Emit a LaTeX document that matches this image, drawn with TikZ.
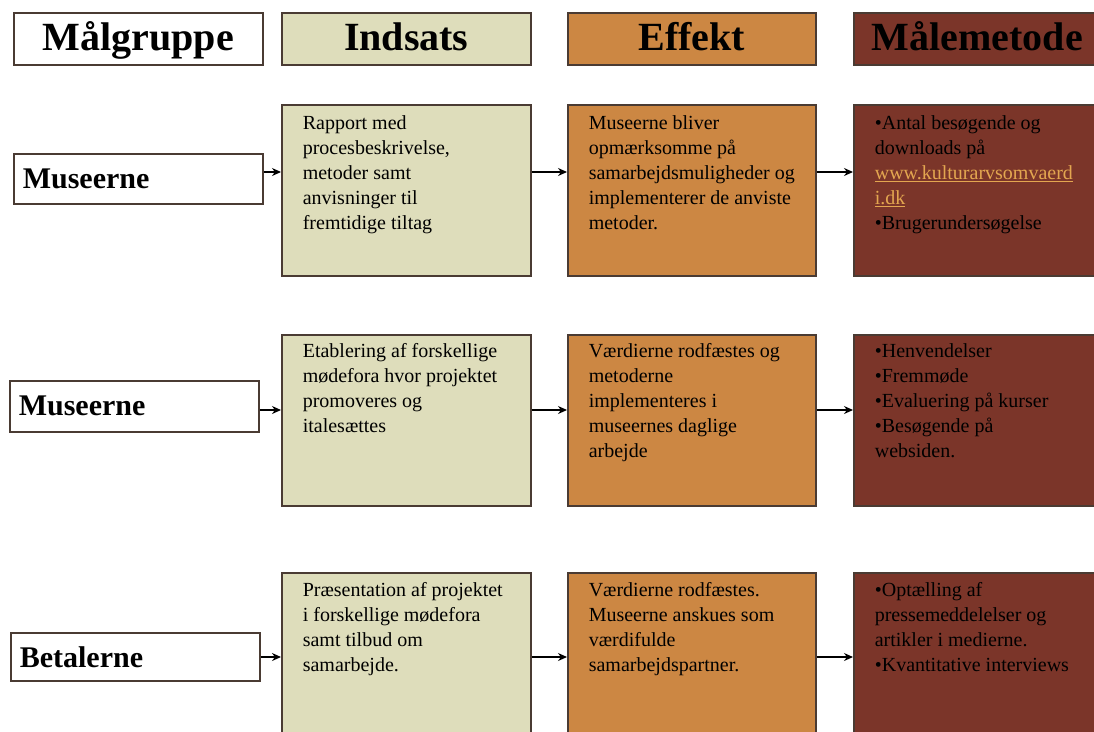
\documentclass[tikz,border=0pt]{standalone}
\usepackage{fontspec}
\setmainfont{Liberation Serif}
\usetikzlibrary{arrows.meta}
\definecolor{edgecol}{HTML}{4A3B33}
\definecolor{indsatscol}{HTML}{DEDDBB}
\definecolor{effektcol}{HTML}{CC8743}
\definecolor{maalecol}{HTML}{7B3529}
\definecolor{linkcol}{HTML}{E3A650}

\begin{document}
\begin{tikzpicture}[x=1pt,y=-1pt,>={Stealth[length=9pt,width=8pt]},line width=1.6pt,
  head/.style={draw=edgecol,anchor=north west,minimum height=52pt,inner sep=0pt,
    text height=30pt,text depth=6pt,font=\fontsize{40}{40}\selectfont\bfseries},
  group/.style={draw=edgecol,fill=white,anchor=north west,minimum width=249pt,
    text width=231pt,inner xsep=9pt,align=left,font=\fontsize{30}{30}\selectfont\bfseries},
  cell/.style={draw=edgecol,anchor=north west,minimum height=171pt,inner sep=0pt},
  txt/.style={anchor=north west,inner sep=0pt,align=left,font=\fontsize{20}{25}\selectfont},
  link/.style={->,draw=black,line width=1.4pt}]

  \clip (0,0) rectangle (1094,731);

  % column heads
  \node[head,fill=white,minimum width=249pt] (hg) at (13,12) {Målgruppe};
  \node[head,fill=indsatscol,minimum width=249pt] (hi) at (281,12) {Indsats};
  \node[head,fill=effektcol,minimum width=248pt] (he) at (567,12) {Effekt};
  \node[head,fill=maalecol,minimum width=247pt] (hm) at (853,12) {Målemetode};

  % rows
  \node[group,minimum height=50pt] (g1) at (13,153) {Museerne};
  \node[group,minimum height=51pt] (g2) at (9,380) {Museerne};
  \node[group,minimum height=48pt] (g3) at (10,632) {Betalerne};

  \foreach \r/\y in {1/104,2/334,3/572} {
    \node[cell,fill=indsatscol,minimum width=249pt] (i\r) at (281,\y) {};
    \node[cell,fill=effektcol,minimum width=248pt] (e\r) at (567,\y) {};
    \node[cell,fill=maalecol,minimum width=260pt] (m\r) at (853,\y) {};
  }

  \node[txt] (i1t) at ([xshift=21pt,yshift=-11pt]i1.north west)
    {Rapport med\\procesbeskrivelse,\\metoder samt\\anvisninger til\\fremtidige tiltag};
  \node[txt] (e1t) at ([xshift=21pt,yshift=-11pt]e1.north west)
    {Museerne bliver\\opmærksomme på\\samarbejdsmuligheder og\\implementerer de anviste\\metoder.};
  \node[txt] (m1t) at ([xshift=21pt,yshift=-11pt]m1.north west)
    {•Antal besøgende og\\downloads på\\\textcolor{linkcol}{\underline{www.kulturarvsomvaerd}}\\
     \textcolor{linkcol}{\underline{i.dk}}\\•Brugerundersøgelse};

  \node[txt] (i2t) at ([xshift=21pt,yshift=-9pt]i2.north west)
    {Etablering af forskellige\\mødefora hvor projektet\\promoveres og\\italesættes};
  \node[txt] (e2t) at ([xshift=21pt,yshift=-9pt]e2.north west)
    {Værdierne rodfæstes og\\metoderne\\implementeres i\\museernes daglige\\arbejde};
  \node[txt] (m2t) at ([xshift=21pt,yshift=-9pt]m2.north west)
    {•Henvendelser\\•Fremmøde\\•Evaluering på kurser\\•Besøgende på\\websiden.};

  \node[txt] (i3t) at ([xshift=21pt,yshift=-10pt]i3.north west)
    {Præsentation af projektet\\i forskellige mødefora\\samt tilbud om\\samarbejde.};
  \node[txt] (e3t) at ([xshift=21pt,yshift=-10pt]e3.north west)
    {Værdierne rodfæstes.\\Museerne anskues som\\værdifulde\\samarbejdspartner.};
  \node[txt] (m3t) at ([xshift=21pt,yshift=-10pt]m3.north west)
    {•Optælling af\\pressemeddelelser og\\artikler i medierne.\\•Kvantitative interviews};

  % arrows
  \coordinate (r1) at (0,172);
  \coordinate (r2) at (0,410);
  \coordinate (r3) at (0,657);
  \foreach \r in {1,2,3} {
    \draw[link] (g\r.east |- r\r) -- (i\r.west |- r\r);
    \draw[link] (i\r.east |- r\r) -- (e\r.west |- r\r);
    \draw[link] (e\r.east |- r\r) -- (m\r.west |- r\r);
  }
\end{tikzpicture}
\end{document}
